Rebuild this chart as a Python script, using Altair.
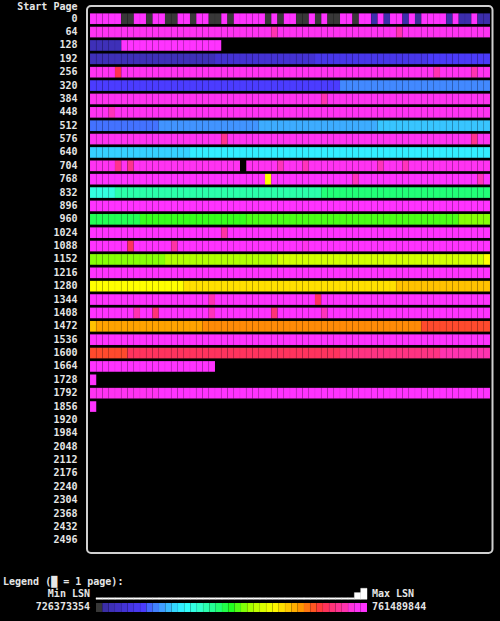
import altair as alt
import pandas as pd

# ---------------- data ----------------
ROW_STARTS = list(range(0, 2560, 64))          # start page of each row (40 rows)
CELLS_PER_ROW = 64
LSN_MIN = 726373354
LSN_MAX = 761489844

# Each row: (first_cell, end_cell_exclusive, LSN level in % of [LSN_MIN, LSN_MAX])
ROW_SEGMENTS = {
    0: [(0, 5, 100), (5, 7, 0), (7, 9, 100), (9, 10, 0), (10, 12, 100), (12, 14, 0),
        (14, 16, 100), (16, 17, 0), (17, 19, 100), (19, 21, 0), (21, 22, 100), (22, 23, 0),
        (23, 28, 100), (28, 29, 0), (29, 30, 100), (30, 31, 0), (31, 33, 100), (33, 35, 0),
        (35, 36, 100), (36, 37, 0), (37, 38, 100), (38, 40, 0), (40, 42, 100), (42, 43, 0),
        (43, 45, 100), (45, 46, 3), (46, 47, 100), (47, 48, 3), (48, 50, 100), (50, 51, 3),
        (51, 52, 100), (52, 53, 2), (53, 57, 100), (57, 58, 3), (58, 59, 100), (59, 61, 3),
        (61, 62, 100), (62, 64, 3)],
    64: [(0, 29, 97), (29, 30, 93), (30, 49, 97), (49, 50, 93), (50, 64, 97)],
    128: [(0, 5, 5), (5, 21, 100)],
    192: [(0, 20, 5), (20, 36, 9), (36, 54, 13), (54, 64, 16)],
    256: [(0, 4, 97), (4, 5, 85), (5, 55, 97), (55, 56, 93), (56, 61, 97), (61, 62, 93), (62, 64, 97)],
    320: [(0, 40, 17), (40, 64, 22)],
    384: [(0, 37, 97), (37, 38, 93), (38, 64, 97)],
    448: [(0, 3, 97), (3, 4, 94), (4, 64, 97)],
    512: [(0, 11, 20), (11, 27, 23), (27, 46, 25), (46, 64, 27)],
    576: [(0, 21, 97), (21, 22, 90), (22, 61, 97), (61, 62, 90), (62, 64, 97)],
    640: [(0, 16, 28), (16, 64, 31)],
    704: [(0, 4, 97), (4, 5, 90), (5, 6, 97), (6, 7, 90), (7, 24, 97), (25, 30, 97), (30, 31, 94),
          (31, 34, 97), (34, 35, 94), (35, 46, 97), (46, 47, 94), (47, 50, 97), (50, 51, 94),
          (51, 64, 97)],
    768: [(0, 28, 100), (28, 29, 66), (29, 42, 100), (42, 43, 94), (43, 62, 100), (62, 63, 94),
          (63, 64, 100)],
    832: [(0, 4, 36), (4, 37, 41), (37, 64, 45)],
    896: [(0, 64, 100)],
    960: [(0, 8, 47), (8, 25, 51), (25, 59, 52), (59, 64, 55)],
    1024: [(0, 21, 100), (21, 22, 92), (22, 64, 100)],
    1088: [(0, 6, 100), (6, 7, 86), (7, 13, 100), (13, 14, 92), (14, 34, 100), (34, 35, 96),
           (35, 64, 100)],
    1152: [(0, 12, 55), (12, 30, 58), (30, 63, 61), (63, 64, 66)],
    1216: [(0, 64, 100)],
    1280: [(0, 15, 66), (15, 49, 69), (49, 64, 72)],
    1344: [(0, 19, 100), (19, 20, 93), (20, 36, 100), (36, 37, 86), (37, 64, 100)],
    1408: [(0, 7, 100), (7, 8, 93), (8, 10, 100), (10, 11, 88), (11, 19, 100), (19, 20, 94),
           (20, 29, 100), (29, 30, 88), (30, 37, 100), (37, 38, 94), (38, 64, 100)],
    1472: [(0, 1, 72), (1, 18, 75), (18, 53, 77), (53, 64, 82)],
    1536: [(0, 64, 100)],
    1600: [(0, 6, 82), (6, 40, 86), (40, 56, 89), (56, 64, 93)],
    1664: [(0, 20, 100)],
    1728: [(0, 1, 100)],
    1792: [(0, 11, 97), (11, 64, 100)],
    1856: [(0, 1, 100)],
}

# colour ramp: level stops and colours (min LSN -> max LSN)
COLOR_STOPS = [0, 2.3, 10, 17, 19, 24, 29, 33, 38, 44, 50, 56, 62, 66, 71, 76, 81, 84, 88, 94, 96, 100]
COLOR_RANGE = ["#383838", "#3b2ea6", "#4433d8", "#4b3cff", "#4466ff", "#40a0ff", "#33ddff",
               "#33ffff", "#33ffcc", "#22ff88", "#22ff22", "#99ff00", "#ddff00", "#ffff00",
               "#ffcc00", "#ff9900", "#ff5522", "#ff3344", "#ff3377", "#ff33bb", "#ff33ee",
               "#ff33ff"]
LEGEND_BLOCKS = 43

# ---------------- tables ----------------
rows = []
for start, segs in ROW_SEGMENTS.items():
    for a, b, lvl in segs:
        for c in range(a, b):
            rows.append({"start": start, "c": c, "c2": c + 1, "level": lvl})
cells_df = pd.DataFrame(rows)

counts = [0] * LEGEND_BLOCKS
for lvl in cells_df["level"]:
    counts[min(int(lvl / 100 * LEGEND_BLOCKS), LEGEND_BLOCKS - 1)] += 1
maxc = max(counts)
leg_df = pd.DataFrame({
    "k": list(range(LEGEND_BLOCKS)),
    "k2": [k + 1 for k in range(LEGEND_BLOCKS)],
    "level": [k * 100 / (LEGEND_BLOCKS - 1) for k in range(LEGEND_BLOCKS)],
    "h": [max(n, 0.14 * maxc) for n in counts],
})

FONT = "DejaVu Sans Mono"
TXT = "#e6e6e6"
color_scale = alt.Scale(domain=COLOR_STOPS, range=COLOR_RANGE, interpolate="rgb")

cells = alt.Chart(cells_df).mark_rect(stroke="#000000", strokeOpacity=0.09, strokeWidth=0.6).encode(
    x=alt.X("c:Q", scale=alt.Scale(domain=[0, CELLS_PER_ROW], range=[3, 403]), axis=None),
    x2="c2:Q",
    y=alt.Y("start:O",
            scale=alt.Scale(domain=ROW_STARTS, paddingInner=0.2, paddingOuter=0.55),
            axis=alt.Axis(title="Start Page", titleAngle=0, titleAlign="right", titleX=-10, titleY=3,
                          titleBaseline="alphabetic", titleFont=FONT, titleFontSize=10,
                          titleFontWeight="bold", titleColor=TXT,
                          labelFont=FONT, labelFontSize=10, labelFontWeight="bold", labelColor=TXT,
                          labelPadding=10, ticks=False, tickSize=0, domain=False, grid=False)),
    color=alt.Color("level:Q", scale=color_scale, legend=None),
)

leg_x = alt.Scale(domain=[0, LEGEND_BLOCKS], range=[9, 280])
legend_bar = alt.Chart(leg_df).mark_rect(stroke="#000000", strokeOpacity=0.06, strokeWidth=0.5).encode(
    x=alt.X("k:Q", scale=leg_x, axis=None),
    x2="k2:Q",
    y=alt.value(597), y2=alt.value(606),
    color=alt.Color("level:Q", scale=color_scale, legend=None),
)

spark = alt.Chart(leg_df).mark_rect(color="#ffffff", stroke="#ffffff", strokeWidth=0.4).encode(
    x=alt.X("k:Q", scale=leg_x, axis=None),
    x2="k2:Q",
    y=alt.Y("h:Q", scale=alt.Scale(domain=[0, maxc], range=[593.3, 582.3]), axis=None),
    y2=alt.value(593.3),
)


def label(text, x, y, align):
    return alt.Chart(pd.DataFrame({"t": [text]})).mark_text(
        font=FONT, fontSize=10, fontWeight="bold", color=TXT, align=align, baseline="middle"
    ).encode(text="t:N", x=alt.value(x), y=alt.value(y))


texts = [
    label("Legend (\u2588 = 1 page):", -84, 575.5, "left"),
    label("Min LSN", 3, 588, "right"),
    label(str(LSN_MIN), 3, 601, "right"),
    label("Max LSN", 285, 588, "left"),
    label(str(LSN_MAX), 285, 601, "left"),
]

chart = alt.layer(cells, legend_bar, spark, *texts).resolve_scale(
    x="independent", y="independent"
).properties(
    width=405.5, height=547,
    padding={"left": 87, "top": 6, "right": 7.5, "bottom": 68},
    autosize=alt.AutoSizeParams(type="none"),
    background="#000000",
).configure_view(stroke="#d0d0d0", strokeWidth=2, cornerRadius=4)

chart.save("out.html", embed_options={"renderer": "svg", "actions": False})
